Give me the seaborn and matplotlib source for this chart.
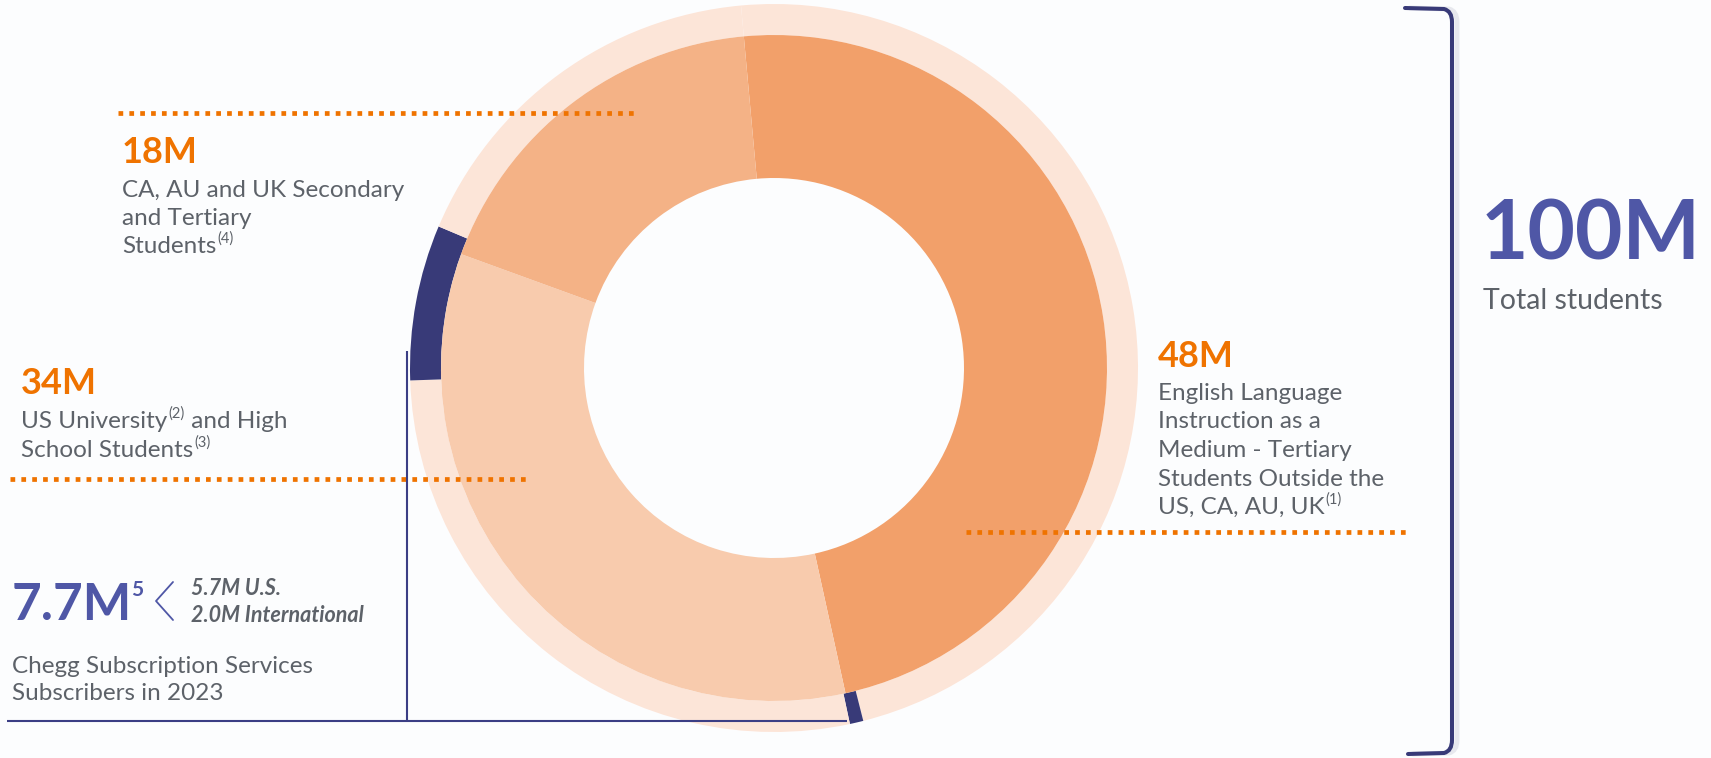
import matplotlib
matplotlib.use("Agg")
import matplotlib.pyplot as plt
from matplotlib.path import Path
from matplotlib.patches import PathPatch
import seaborn as sns

# ---------------- data ----------------
segment_labels = ["48M", "34M", "18M"]
segment_values = [48, 34, 18]
segment_desc_48 = ["English Language", "Instruction as a", "Medium - Tertiary",
                   "Students Outside the", "US, CA, AU, UK"]
segment_desc_34 = ["US University", "School Students"]
segment_desc_18 = ["CA, AU and UK Secondary", "and Tertiary", "Students"]
# outer ring: light band with navy arcs showing subscriber share (percent of circle)
ring_values = [47.5, 0.6, 27.8, 6.9, 17.2]
ring_is_subscriber = [False, True, False, True, False]
subscribers_label = "7.7M"
subscriber_split = ["5.7M U.S.", "2.0M International"]
subscriber_desc = ["Chegg Subscription Services", "Subscribers in 2023"]
total_label = "100M"
total_desc = "Total students"

# ---------------- style ----------------
W, H, DPI = 1711, 758, 100
BG = "#fcfdfe"
ORANGE = "#ef7300"
GRAY = "#5d6269"
BLUE = "#4f57a6"
NAVY = "#383a78"
LINE_NAVY = "#3b3e85"
RING = "#fce5d8"
SEG_COLORS = ["#f2a06a", "#f8cbad", "#f4b286"]
BODY_WEIGHT = "normal"

sns.set_theme(style="white")
plt.rcParams["font.family"] = ["Lato", "DejaVu Sans"]

fig = plt.figure(figsize=(W / DPI, H / DPI), dpi=DPI)
fig.patch.set_facecolor(BG)
ax = fig.add_axes([0, 0, 1, 1])
ax.set_facecolor(BG)


def Y(y):
    return H - y


center = (774, Y(368))
ring_colors = [NAVY if s else RING for s in ring_is_subscriber]
ax.pie(ring_values, radius=364, center=center, startangle=95.2, counterclock=False,
       colors=ring_colors, wedgeprops=dict(width=31, linewidth=0))
ax.pie(segment_values, radius=333, center=center, startangle=95.2, counterclock=False,
       colors=SEG_COLORS, wedgeprops=dict(width=143, linewidth=0))

ax.set_xlim(0, W)
ax.set_ylim(0, H)
ax.set_aspect("auto")
ax.axis("off")

renderer = fig.canvas.get_renderer()


def dotted(x0, x1, y):
    ax.plot([x0, x1], [Y(y), Y(y)], color=ORANGE, lw=3.4, linestyle=(0, (1, 1.3)),
            dash_capstyle="butt", solid_capstyle="butt")


def rich_line(x, yb, parts, size, color=GRAY, weight=BODY_WEIGHT, style="normal"):
    """parts: list of (text, is_superscript)"""
    cx = x
    for txt, sup in parts:
        if sup:
            s = size * 0.6
            t = ax.text(cx + 1, Y(yb) + size * 0.42 * DPI / 72, txt, fontsize=s, color=color,
                        va="baseline", ha="left", weight=weight, style=style)
        else:
            t = ax.text(cx, Y(yb), txt, fontsize=size, color=color, va="baseline",
                        ha="left", weight=weight, style=style)
        bb = t.get_window_extent(renderer=renderer)
        cx = bb.x1 + (1 if sup else 0)


BODY = 17.5
LABEL = 26

# 18M block
dotted(118, 636, 113)
ax.text(122, Y(163), segment_labels[2], fontsize=LABEL, weight="bold", color=ORANGE, va="baseline")
rich_line(122, 197, [(segment_desc_18[0], False)], BODY)
rich_line(122, 225, [(segment_desc_18[1], False)], BODY)
rich_line(122, 253, [(segment_desc_18[2], False), ("(4)", True)], BODY)

# 34M block
ax.text(21, Y(394), segment_labels[1], fontsize=LABEL, weight="bold", color=ORANGE, va="baseline")
rich_line(21, 428, [(segment_desc_34[0], False), ("(2)", True), (" and High", False)], BODY)
rich_line(21, 457, [(segment_desc_34[1], False), ("(3)", True)], BODY)
dotted(10, 527, 479)

# 48M block
ax.text(1158, Y(367), segment_labels[0], fontsize=LABEL, weight="bold", color=ORANGE, va="baseline")
for i, ln in enumerate(segment_desc_48):
    parts = [(ln, False)]
    if i == len(segment_desc_48) - 1:
        parts.append(("(1)", True))
    rich_line(1158, 400 + i * 28.5, parts, BODY)
dotted(966, 1408, 532)

# subscribers block
t77 = ax.text(12, Y(620), subscribers_label, fontsize=37, weight="bold", color=BLUE, va="baseline")
bb = t77.get_window_extent(renderer=renderer)
ax.text(bb.x1 - 1, Y(596), "5", fontsize=15, weight="bold", color=BLUE, va="baseline")
ax.plot([173, 156, 173], [Y(582), Y(601), Y(620)], color=BLUE, lw=1.3)
ax.text(191, Y(595), subscriber_split[0], fontsize=15.5, weight="bold", style="italic",
        color=GRAY, va="baseline")
ax.text(191, Y(622), subscriber_split[1], fontsize=15.5, weight="bold", style="italic",
        color=GRAY, va="baseline")
rich_line(12, 673, [(subscriber_desc[0], False)], BODY)
rich_line(12, 700, [(subscriber_desc[1], False)], BODY)

# navy connector lines
ax.plot([407, 407], [Y(351), Y(721)], color=LINE_NAVY, lw=1.5, solid_capstyle="butt")
ax.plot([7, 847], [Y(721), Y(721)], color=LINE_NAVY, lw=1.5, solid_capstyle="butt")

# bracket with soft shadow
def bracket(dx, color, lw, alpha=1.0):
    verts = [(1405 + dx, Y(8)), (1444 + dx, Y(9)), (1452 + dx, Y(11)), (1452 + dx, Y(22)),
             (1452 + dx, Y(740)), (1452 + dx, Y(751)), (1444 + dx, Y(753)), (1408 + dx, Y(754))]
    codes = [Path.MOVETO, Path.LINETO, Path.CURVE3, Path.CURVE3,
             Path.LINETO, Path.CURVE3, Path.CURVE3, Path.LINETO]
    ax.add_patch(PathPatch(Path(verts, codes), facecolor="none", edgecolor=color,
                           lw=lw, alpha=alpha, capstyle="round"))

bracket(5, "#d9dbe4", 3.5, 0.6)
bracket(0, NAVY, 2.9)

# total
ax.text(1481, Y(259), total_label, fontsize=59, weight="bold", color=BLUE, va="baseline")
ax.text(1483, Y(309), total_desc, fontsize=20.5, color=GRAY, va="baseline", weight=BODY_WEIGHT)

fig.savefig("out.png", dpi=DPI, facecolor=BG)
